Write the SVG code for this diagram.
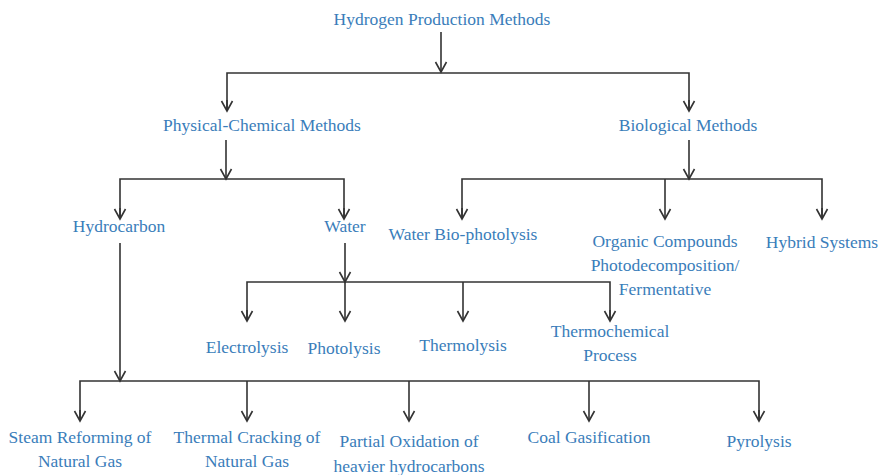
<svg xmlns="http://www.w3.org/2000/svg" width="880" height="475" viewBox="0 0 880 475">
<defs>
<style>
text{font-family:"Liberation Serif","Times New Roman",serif;font-size:17.5px;fill:#3a7dba;text-anchor:middle}
.c line,.c path{stroke:#333;stroke-width:1.6;fill:none}
</style>
<marker id="a" markerUnits="userSpaceOnUse" markerWidth="14" markerHeight="14" viewBox="0 0 14 14" refX="12" refY="7" orient="auto">
<path d="M2,1.5 L12,7 L2,12.5" fill="none" stroke="#333" stroke-width="1.6"/>
</marker>
</defs>
<rect width="880" height="475" fill="#fff"/>
<g class="c" id="connectors">
<line x1="441" y1="32" x2="441" y2="72" marker-end="url(#a)"/>
<path d="M227,110 V73 H689 V110" />
<line x1="227" y1="100" x2="227" y2="111" marker-end="url(#a)"/>
<line x1="689" y1="100" x2="689" y2="111" marker-end="url(#a)"/>
<line x1="226" y1="140" x2="226" y2="179" marker-end="url(#a)"/>
<path d="M120,218 V179 H344 V218"/>
<line x1="120" y1="208" x2="120" y2="219" marker-end="url(#a)"/>
<line x1="344" y1="208" x2="344" y2="219" marker-end="url(#a)"/>
<line x1="689" y1="140" x2="689" y2="179" marker-end="url(#a)"/>
<path d="M462,218 V179 H822 V218"/>
<line x1="665" y1="179" x2="665" y2="219" marker-end="url(#a)"/>
<line x1="462" y1="208" x2="462" y2="219" marker-end="url(#a)"/>
<line x1="822" y1="208" x2="822" y2="219" marker-end="url(#a)"/>
<line x1="345" y1="243" x2="345" y2="282" marker-end="url(#a)"/>
<path d="M247,320 V282 H610 V320"/>
<line x1="345" y1="282" x2="345" y2="321" marker-end="url(#a)"/>
<line x1="463" y1="282" x2="463" y2="321" marker-end="url(#a)"/>
<line x1="247" y1="310" x2="247" y2="321" marker-end="url(#a)"/>
<line x1="610" y1="310" x2="610" y2="321" marker-end="url(#a)"/>
<line x1="120" y1="243" x2="120" y2="381" marker-end="url(#a)"/>
<path d="M80,420 V381 H759 V420"/>
<line x1="80" y1="410" x2="80" y2="421" marker-end="url(#a)"/>
<line x1="759" y1="410" x2="759" y2="421" marker-end="url(#a)"/>
<line x1="247" y1="381" x2="247" y2="421" marker-end="url(#a)"/>
<line x1="409" y1="381" x2="409" y2="421" marker-end="url(#a)"/>
<line x1="589" y1="381" x2="589" y2="421" marker-end="url(#a)"/>
</g>
<g id="root"><text x="442" y="25">Hydrogen Production Methods</text></g>
<g id="physchem"><text x="262" y="131">Physical-Chemical Methods</text></g>
<g id="bio"><text x="688" y="131">Biological Methods</text></g>
<g id="hydrocarbon"><text x="119" y="232">Hydrocarbon</text></g>
<g id="water"><text x="345" y="232">Water</text></g>
<g id="biophotolysis"><text x="463" y="240">Water Bio-photolysis</text></g>
<g id="organic"><text x="665" y="247">Organic Compounds</text><text x="665" y="271">Photodecomposition/</text><text x="665" y="295">Fermentative</text></g>
<g id="hybrid"><text x="822" y="248">Hybrid Systems</text></g>
<g id="electrolysis"><text x="247" y="353">Electrolysis</text></g>
<g id="photolysis"><text x="344" y="354">Photolysis</text></g>
<g id="thermolysis"><text x="463" y="351">Thermolysis</text></g>
<g id="thermochem"><text x="610" y="337">Thermochemical</text><text x="610" y="361">Process</text></g>
<g id="steam"><text x="80" y="443">Steam Reforming of</text><text x="80" y="467">Natural Gas</text></g>
<g id="cracking"><text x="247" y="443">Thermal Cracking of</text><text x="247" y="467">Natural Gas</text></g>
<g id="partial"><text x="409" y="447">Partial Oxidation of</text><text x="409" y="472">heavier hydrocarbons</text></g>
<g id="coal"><text x="589" y="443">Coal Gasification</text></g>
<g id="pyrolysis"><text x="759" y="447">Pyrolysis</text></g>
</svg>
